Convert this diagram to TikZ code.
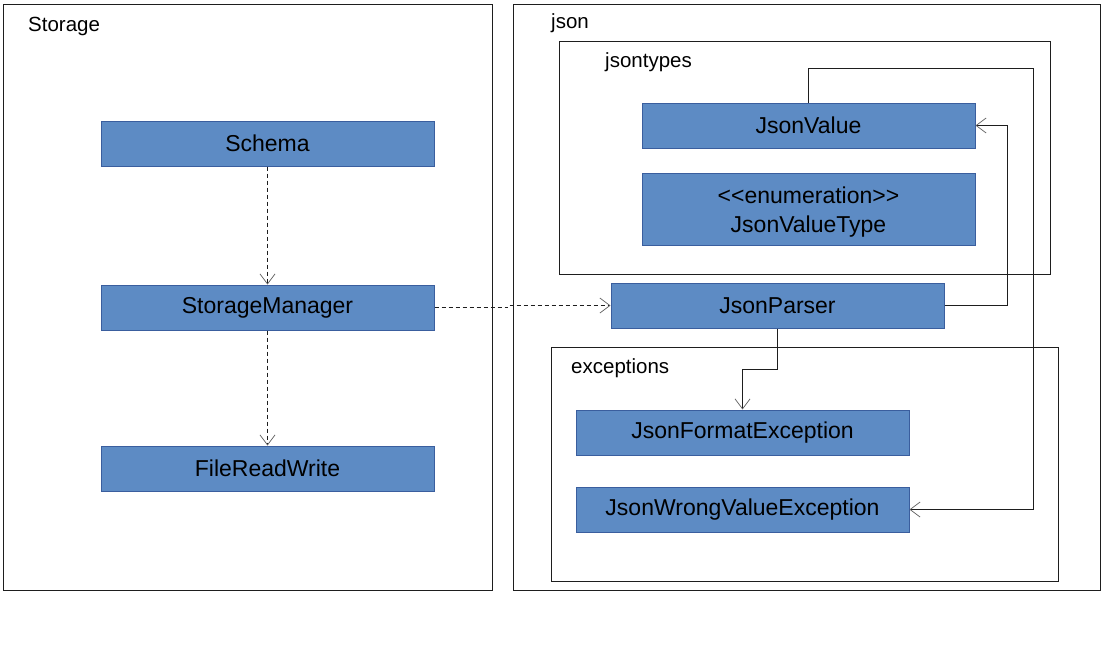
\documentclass[tikz,border=0pt]{standalone}
\usepackage{fontspec}
\setmainfont{Liberation Sans}
\usetikzlibrary{arrows.meta}
\definecolor{boxfill}{RGB}{93,139,196}
\definecolor{boxline}{RGB}{58,94,158}
\definecolor{tipgray}{RGB}{95,95,95}
\definecolor{framecol}{RGB}{30,30,30}
\begin{document}
\begin{tikzpicture}[x=1pt,y=-1pt,
  cls/.style={draw=boxline,fill=boxfill,line width=1pt,minimum width=333pt,minimum height=45pt,inner sep=0pt,font=\fontsize{23}{29}\selectfont,align=center,text=black},
  frame/.style={draw=framecol,line width=1pt},
  flabel/.style={anchor=west,inner sep=0pt,font=\fontsize{20.5}{24}\selectfont},
  tip/.style={-{Straight Barb[length=10pt,width=15pt,line width=0.7pt,color=tipgray]}},
  dep/.style={tip,draw=framecol,dash pattern=on 4pt off 3pt,line width=0.9pt},
  assoc/.style={tip,draw=framecol,line width=1pt}]
\useasboundingbox (0,0) rectangle (1117,670);
\fill[white] (0,0) rectangle (1117,670);
% frames
\draw[frame] (3,4) rectangle (492,590);
\node[flabel] (lstorage) at (28,26.5) {Storage};
\draw[frame] (513,4) rectangle (1100,590);
\node[flabel] (ljson) at (551,23.5) {json};
\draw[frame] (559,41) rectangle (1050,274);
\node[flabel] (ljsontypes) at (605,62.5) {jsontypes};
\draw[frame] (551,347) rectangle (1058,581);
\node[flabel] (lexceptions) at (571,368.5) {exceptions};
% classes
\node[cls] (schema) at (267.5,143.5) {Schema};
\node[cls] (sm) at (267.5,307.5) {StorageManager};
\node[cls] (frw) at (267.5,468.5) {FileReadWrite};
\node[cls] (jv) at (808.5,125.5) {JsonValue};
\node[cls,minimum height=72pt] (jvt) at (808.5,209) {\rule{0pt}{23pt}<{}<enumeration>{}>\\JsonValueType};
\node[cls] (jp) at (777.5,305.5) {JsonParser};
\node[cls] (jfe) at (742.5,432.5) {JsonFormatException};
\node[cls] (jwve) at (742.5,509.5) {JsonWrongValueException};
% connectors
\draw[dep] (schema.south) -- (sm.north);
\draw[dep] (sm.south) -- (frw.north);
\draw[dep] (sm.east) -- ++(73,0) |- (jp.west);
\draw[assoc] (jp.east) -- ++(63,0) |- (jv.east);
\coordinate (loop) at (1033,68);
\draw[assoc] (jv.north) |- (loop) |- (jwve.east);
\draw[assoc] (jp.south) -- ++(0,41) -| (jfe.north);
\end{tikzpicture}
\end{document}
